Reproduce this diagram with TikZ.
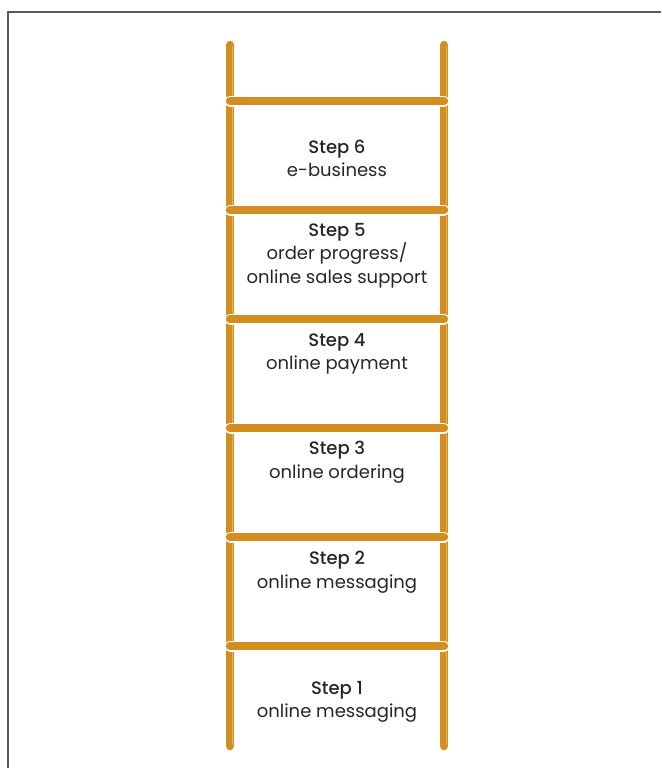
\documentclass[tikz,border=0pt]{standalone}
\usepackage{fontspec}
\setmainfont{Poppins}[BoldFont={Poppins Medium}]
\usepackage{xcolor}
\usepackage{tikz}
\usetikzlibrary{positioning}
\definecolor{ladderwood}{HTML}{D38E20}
\definecolor{ladderlight}{HTML}{E2B163}
\definecolor{steptext}{HTML}{262626}
\tikzset{
  rail/.style={draw=ladderwood,line width=8.5pt,line cap=round},
  railshine/.style={draw=ladderlight,line width=1.5pt,line cap=round},
  rungedge/.style={draw=white,line width=11pt,line cap=round},
  rung/.style={draw=ladderwood,line width=8.5pt,line cap=round},
  steplabel/.style={align=center,text=steptext,font=\fontsize{18}{23.5}\selectfont},
  frameline/.style={draw=black!65,line width=2pt}
}

\begin{document}
\begin{tikzpicture}[x=1pt,y=-1pt]
  \useasboundingbox (0,0) rectangle (661,768);
  \draw[frameline] (8,768) -- (8,12) -- (661,12);
  % rails
  \foreach \x in {230,444}{
    \draw[rail] (\x,45) -- (\x,746);
    \draw[railshine] (\x+2.5,47) -- (\x+2.5,744);
  }
  % rungs
  \foreach \y in {101,210,319,428,537,646}{
    \draw[rungedge] (230,\y) -- (444,\y);
    \draw[rung] (230,\y) -- (444,\y);
  }
  \node[steplabel] (step6) at (337,158.5) {\textbf{Step 6}\\e-business};
  \node[steplabel] (step5) at (337,255.5) {\textbf{Step 5}\\order progress/\\online sales support};
  \node[steplabel] (step4) at (337,354) {\textbf{Step 4}\\online payment};
  \node[steplabel] (step3) at (337,462) {\textbf{Step 3}\\online ordering};
  \node[steplabel] (step2) at (337,572) {\textbf{Step 2}\\online messaging};
  \node[steplabel] (step1) at (337,702) {\textbf{Step 1}\\online messaging};
\end{tikzpicture}
\end{document}
